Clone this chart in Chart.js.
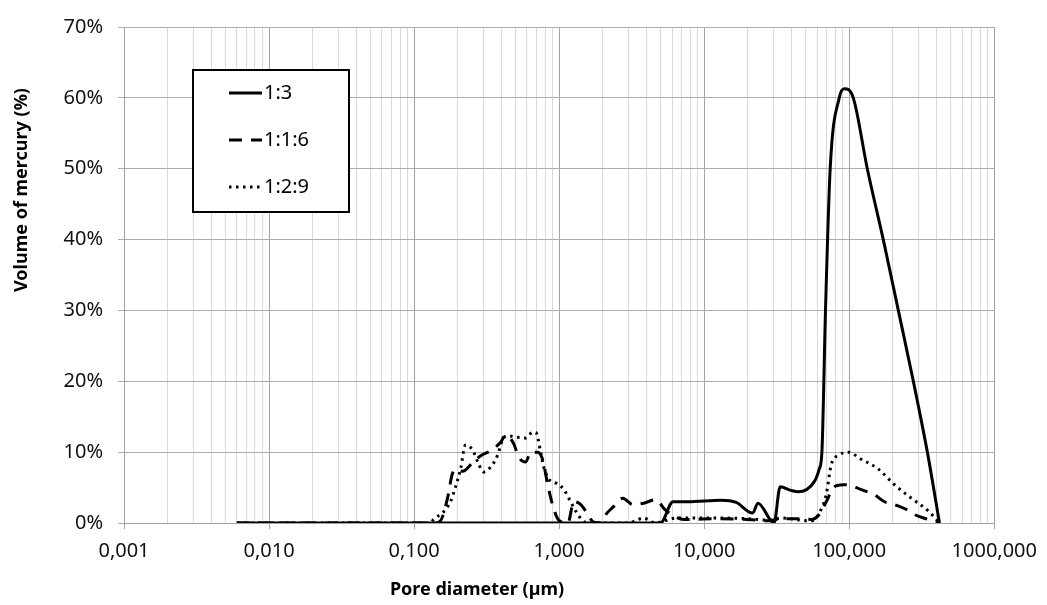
<!DOCTYPE html>
<html>
<head>
<meta charset="utf-8">
<title>Pore size distribution</title>
<script src="https://cdn.jsdelivr.net/npm/chart.js@4.4.0/dist/chart.umd.min.js"></script>
<style>
  html, body { margin: 0; padding: 0; background: #fff; }
  #wrap { width: 1047px; height: 605px; }
</style>
</head>
<body>
<div id="wrap"><canvas id="chart" width="1047" height="605"></canvas></div>
<script>
// values: pore diameter (µm) and volume of mercury (%)
const diam13 = [0.006, 4.5, 5.0, 6.1, 7.7, 13.1, 16.6, 21.6, 23.5, 30.3, 33.4, 39.7, 44.4, 57.3, 62.1, 64.8, 68.6, 73.9, 85.3, 92.3, 106.6, 133.2, 171.7, 218, 276.7, 345.7, 419];
const vol13 = [0, 0, 0, 3.0, 3.0, 3.2, 2.9, 1.4, 2.8, 0, 5.1, 4.6, 4.4, 5.8, 7.6, 10, 30, 50, 60, 61.3, 60, 50, 40, 30, 20, 10, 0];

const diam116 = [0.006, 0.14, 0.152, 0.170, 0.184, 0.200, 0.216, 0.253, 0.288, 0.337, 0.395, 0.428, 0.486, 0.526, 0.588, 0.636, 0.711, 0.771, 0.834, 0.918, 0.993, 1.15, 1.26, 1.41, 1.58, 1.73, 1.94, 2.10, 2.34, 2.75, 3.22, 3.84, 4.65, 5.3, 6.4, 7.25, 13, 20, 28, 33.9, 46.6, 54.7, 62.1, 69.4, 78.8, 91, 103, 121, 149, 175, 205, 248, 281, 351, 419];
const vol116 = [0, 0, 0.3, 3.5, 7.0, 7.6, 7.3, 8.5, 9.5, 10.2, 11.4, 12.4, 11.2, 9.3, 8.6, 10.0, 10.0, 8.9, 5.4, 2.0, 0.4, 0, 3.0, 2.6, 1.2, 0.1, 0, 1.2, 2.2, 3.5, 2.6, 2.8, 3.3, 2.0, 0.8, 0.5, 0.6, 0.5, 0.3, 0.6, 0.6, 0.5, 1.2, 3.0, 5.1, 5.4, 5.3, 4.7, 4.0, 3.0, 2.6, 1.9, 1.2, 0.5, 0];

const diam129 = [0.006, 0.13, 0.136, 0.160, 0.178, 0.193, 0.209, 0.226, 0.253, 0.279, 0.302, 0.337, 0.377, 0.408, 0.442, 0.518, 0.588, 0.657, 0.689, 0.746, 0.783, 0.848, 0.978, 1.08, 1.20, 1.30, 1.46, 1.6, 3.0, 3.5, 3.84, 4.3, 4.65, 5.3, 6.4, 13, 20, 28, 33.9, 46.6, 54.7, 62.1, 69.4, 75.1, 85.3, 98.4, 121, 159, 205, 268, 351, 419];
const vol129 = [0, 0, 0.5, 1.6, 3.0, 5.1, 7.6, 11.0, 10.3, 8.3, 7.2, 7.9, 9.6, 11.8, 12.3, 12.1, 12.0, 12.8, 12.8, 10.0, 7.9, 6.2, 5.5, 4.7, 3.0, 1.7, 0.3, 0, 0, 0.5, 0.7, 0.2, 0, 0.3, 0.7, 0.7, 0.6, 0.4, 0.7, 0.4, 0.3, 1.4, 4.0, 8.2, 9.6, 10.0, 9.0, 7.6, 5.4, 3.5, 1.7, 0];

const seriesLabels = ['1:3', '1:1:6', '1:2:9'];
const xDecades = [0.001, 0.01, 0.1, 1, 10, 100, 1000];
const yTickValues = [0, 10, 20, 30, 40, 50, 60, 70];
const xTitle = 'Pore diameter (µm)';
const yTitle = 'Volume of mercury (%)';

const FONT = "'Noto Sans', 'DejaVu Sans', sans-serif";

function toPoints(xs, ys) {
    return xs.map((x, i) => ({ x: x, y: ys[i] }));
}

function isDecade(v) {
    const l = Math.log10(v);
    return Math.abs(l - Math.round(l)) < 1e-6;
}

// all 1..9 x decade values, so the minor grid lines are drawn too
function logTicks() {
    const out = [];
    for (let i = 0; i < xDecades.length - 1; i++) {
        for (let k = 1; k < 10; k++) out.push({ value: k * xDecades[i] });
    }
    out.push({ value: xDecades[xDecades.length - 1] });
    return out;
}

const baseLine = {
    borderColor: '#000',
    borderWidth: 3,
    pointRadius: 0,
    fill: false,
    cubicInterpolationMode: 'monotone',
};

const datasets = [
    { ...baseLine, label: seriesLabels[0], data: toPoints(diam13, vol13) },
    { ...baseLine, label: seriesLabels[1], data: toPoints(diam116, vol116), borderDash: [13, 9] },
    { ...baseLine, label: seriesLabels[2], data: toPoints(diam129, vol129), borderDash: [2.5, 4.5] },
];

// legend box drawn inside the plot, like the spreadsheet one
const legendBox = {
    id: 'legendBox',
    afterDraw(chart) {
        const ctx = chart.ctx;
        ctx.save();
        ctx.fillStyle = '#fff';
        ctx.fillRect(193, 70, 156, 142);
        ctx.strokeStyle = '#000';
        ctx.lineWidth = 2;
        ctx.strokeRect(193, 70, 156, 142);
        const rows = [93, 140, 187];
        chart.data.datasets.forEach((ds, i) => {
            const y = rows[i];
            ctx.beginPath();
            ctx.setLineDash(ds.borderDash || []);
            ctx.lineWidth = 3;
            ctx.strokeStyle = '#000';
            ctx.moveTo(229, y);
            ctx.lineTo(262, y);
            ctx.stroke();
            ctx.setLineDash([]);
            ctx.fillStyle = '#000';
            ctx.font = '20px ' + FONT;
            ctx.textAlign = 'left';
            ctx.textBaseline = 'middle';
            ctx.fillText(ds.label, 264, y);
        });
        ctx.restore();
    }
};

// axis titles sit off-centre in the original, so draw them by hand
const axisTitles = {
    id: 'axisTitles',
    afterDraw(chart) {
        const ctx = chart.ctx;
        ctx.save();
        ctx.fillStyle = '#000';
        ctx.font = 'bold 18px ' + FONT;
        ctx.textAlign = 'center';
        ctx.textBaseline = 'middle';
        ctx.fillText(xTitle, 477, 590);
        ctx.translate(22, 190);
        ctx.rotate(-Math.PI / 2);
        ctx.fillText(yTitle, 0, 0);
        ctx.restore();
    }
};

new Chart(document.getElementById('chart'), {
    type: 'line',
    data: { datasets: datasets },
    plugins: [legendBox, axisTitles],
    options: {
        responsive: false,
        animation: false,
        layout: { padding: { top: 17, right: 51, left: 0, bottom: 0 } },
        plugins: {
            legend: { display: false },
            tooltip: { enabled: false },
        },
        scales: {
            x: {
                type: 'logarithmic',
                min: xDecades[0],
                max: xDecades[xDecades.length - 1],
                afterBuildTicks(scale) { scale.ticks = logTicks(); },
                afterFit(scale) { scale.height = 82; },
                ticks: {
                    autoSkip: false,
                    maxRotation: 0,
                    padding: 10,
                    color: '#111',
                    font: { family: FONT, size: 20 },
                    callback: (v) => isDecade(v) ? v.toFixed(3).replace('.', ',') : '',
                },
                grid: {
                    color: (c) => (c.tick && isDecade(c.tick.value)) ? '#a3a3a3' : '#d9d9d9',
                    tickColor: (c) => (c.tick && isDecade(c.tick.value)) ? '#a3a3a3' : 'rgba(0,0,0,0)',
                    tickLength: 6,
                    lineWidth: 1,
                },
                border: { color: '#a3a3a3' },
            },
            y: {
                min: 0,
                max: 70,
                afterBuildTicks(scale) { scale.ticks = yTickValues.map(v => ({ value: v })); },
                afterFit(scale) { scale.width = 124; },
                ticks: {
                    padding: 15,
                    color: '#111',
                    font: { family: FONT, size: 20 },
                    callback: (v) => v + '%',
                },
                grid: {
                    color: '#acacac',
                    tickColor: '#acacac',
                    tickLength: 6,
                },
                border: { color: '#a3a3a3' },
            },
        },
    },
});
</script>
</body>
</html>
